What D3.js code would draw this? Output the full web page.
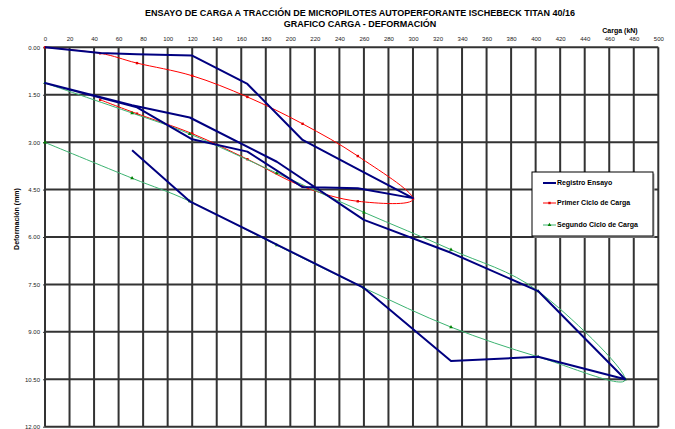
<!DOCTYPE html>
<html>
<head>
<meta charset="utf-8">
<script src="https://cdn.jsdelivr.net/npm/d3@7"></script>
<style>
  body { margin: 0; background: #fff; }
  svg { display: block; font-family: "Liberation Sans", Arial, sans-serif; }
</style>
</head>
<body>
<figure id="grafico" style="margin:0"></figure>
<script>
// carga (kN) vs deformacion (mm)
const cargaRegistro = [0, 45, 75, 120, 165, 210, 255, 300, 255, 210, 165, 120, 75, 0,
  71, 118, 189, 260, 331, 402, 473, 402, 331, 260, 189, 118, 71];
const deformRegistro = [0, 0.18, 0.22, 0.26, 1.16, 2.93, 3.85, 4.77, 4.46, 4.42, 3.30, 2.91, 1.90, 1.13,
  1.83, 2.22, 3.62, 5.46, 6.50, 7.71, 10.50, 9.79, 9.92, 7.61, 6.24, 4.87, 3.26];

const cargaPrimer = [0, 45, 75, 120, 165, 210, 255, 300, 255, 210, 165, 120, 75, 45];
const deformPrimer = [0, 0.19, 0.50, 0.90, 1.57, 2.42, 3.44, 4.79, 4.87, 4.40, 3.54, 2.73, 2.10, 1.66];

const cargaSegundo = [0, 71, 118, 189, 260, 331, 402, 473, 402, 331, 260, 189, 118, 71, 0];
const deformSegundo = [1.13, 2.08, 2.74, 3.98, 5.22, 6.40, 7.71, 10.50, 9.79, 8.85, 7.61, 6.26, 4.87, 4.14, 3.01];

const cargaTicks = d3.range(0, 501, 20);
const deformTicks = [0, 1.5, 3, 4.5, 6, 7.5, 9, 10.5, 12];

const width = 675;
const height = 429;
const plotLeft = 45, plotRight = 658.3, plotTop = 47.3, plotBottom = 426.7;

const svg = d3.select("figure#grafico")
  .append("svg")
  .attr("width", width)
  .attr("height", height);

const x = d3.scaleLinear().domain([0, 500]).range([plotLeft, plotRight]);
const y = d3.scaleLinear().domain([0, 12]).range([plotTop, plotBottom]);

// titles
svg.append("text")
  .attr("x", 360).attr("y", 16)
  .attr("text-anchor", "middle")
  .style("font-size", "9px").style("font-weight", "bold")
  .text("ENSAYO DE CARGA A TRACCIÓN DE MICROPILOTES AUTOPERFORANTE  ISCHEBECK TITAN 40/16");
svg.append("text")
  .attr("x", 360).attr("y", 27)
  .attr("text-anchor", "middle")
  .style("font-size", "9px").style("font-weight", "bold")
  .text("GRAFICO CARGA - DEFORMACIÓN");
svg.append("text")
  .attr("x", 620).attr("y", 33)
  .attr("text-anchor", "middle")
  .style("font-size", "7px").style("font-weight", "bold")
  .text("Carga (kN)");
svg.append("text")
  .attr("transform", "translate(19," + 219 + ") rotate(-90)")
  .attr("text-anchor", "middle")
  .style("font-size", "7px").style("font-weight", "bold")
  .text("Deformación (mm)");

// grid
const grid = svg.append("g").attr("stroke", "#333").attr("stroke-width", 2);
grid.selectAll(".v").data(cargaTicks).enter().append("line")
  .attr("x1", d => x(d)).attr("x2", d => x(d))
  .attr("y1", plotTop).attr("y2", plotBottom);
grid.selectAll(".h").data(deformTicks).enter().append("line")
  .attr("x1", plotLeft).attr("x2", plotRight)
  .attr("y1", d => y(d)).attr("y2", d => y(d));

// axes (labels only)
const xAxis = svg.append("g")
  .attr("transform", "translate(0," + (plotTop - 3) + ")")
  .call(d3.axisTop(x).tickValues(cargaTicks).tickFormat(d3.format("d")).tickSize(0).tickPadding(3));
const yAxis = svg.append("g")
  .attr("transform", "translate(" + plotLeft + ",0)")
  .call(d3.axisLeft(y).tickValues(deformTicks).tickFormat(d3.format(".2f")).tickSize(2).tickPadding(3));
[xAxis, yAxis].forEach(a => {
  a.select(".domain").remove();
  a.selectAll("text").style("font-size", "6px").attr("fill", "#222")
    .style("font-family", "'Liberation Sans', Arial, sans-serif");
  a.selectAll("line").attr("stroke", "#333");
});

const pts = (cs, ds) => cs.map((c, i) => [c, ds[i]]);
const line = d3.line().x(d => x(d[0])).y(d => y(d[1]));
const smooth = d3.line().x(d => x(d[0])).y(d => y(d[1])).curve(d3.curveCardinal.tension(0));

// Primer ciclo (red, smoothed)
const primer = pts(cargaPrimer, deformPrimer);
svg.append("path").attr("d", smooth(primer))
  .attr("fill", "none").attr("stroke", "#ff0000").attr("stroke-width", 1);
svg.selectAll(".mk1").data(primer).enter().append("rect")
  .attr("x", d => x(d[0]) - 1.2).attr("y", d => y(d[1]) - 1.2)
  .attr("width", 2.4).attr("height", 2.4).attr("fill", "#e00000");

// Segundo ciclo (green, smoothed)
const segundo = pts(cargaSegundo, deformSegundo);
svg.append("path").attr("d", smooth(segundo))
  .attr("fill", "none").attr("stroke", "#3cb371").attr("stroke-width", 1);
const tri = d3.symbol().type(d3.symbolTriangle).size(6);
svg.selectAll(".mk2").data(segundo).enter().append("path")
  .attr("d", tri)
  .attr("transform", d => "translate(" + x(d[0]) + "," + y(d[1]) + ")")
  .attr("fill", "#008000");

// Registro ensayo (navy polyline)
svg.append("path").attr("d", line(pts(cargaRegistro, deformRegistro)))
  .attr("fill", "none").attr("stroke", "#000080").attr("stroke-width", 2)
  .attr("stroke-linejoin", "round");

// legend
const lg = svg.append("g").attr("transform", "translate(532,172)");
lg.append("rect").attr("x", 1.5).attr("y", 1.5).attr("width", 121).attr("height", 64).attr("fill", "#aaa");
lg.append("rect").attr("width", 121).attr("height", 64)
  .attr("fill", "#fff").attr("stroke", "#000").attr("stroke-width", 1);
const items = [
  { name: "Registro Ensayo", color: "#000080", w: 2, mark: null },
  { name: "Primer Ciclo de Carga", color: "#ff0000", w: 1, mark: "sq" },
  { name: "Segundo Ciclo de Carga", color: "#3cb371", w: 1, mark: "tri" }
];
const rowY = [11, 31, 53];
items.forEach((it, i) => {
  const g = lg.append("g").attr("transform", "translate(0," + rowY[i] + ")");
  g.append("line").attr("x1", 11).attr("x2", 24).attr("y1", 0).attr("y2", 0)
    .attr("stroke", it.color).attr("stroke-width", it.w);
  if (it.mark === "sq") {
    g.append("rect").attr("x", 16.3).attr("y", -1.2).attr("width", 2.4).attr("height", 2.4).attr("fill", "#e00000");
  } else if (it.mark === "tri") {
    g.append("path").attr("d", tri).attr("transform", "translate(17.5,0)").attr("fill", "#008000");
  }
  g.append("text").attr("x", 25).attr("y", 0).attr("dy", "0.35em")
    .style("font-size", "7px").style("font-weight", "bold")
    .text(it.name);
});
</script>
</body>
</html>
